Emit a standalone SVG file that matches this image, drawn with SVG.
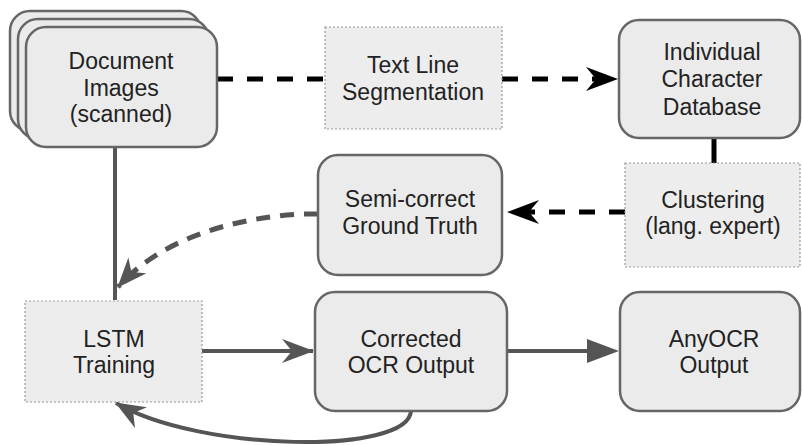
<svg xmlns="http://www.w3.org/2000/svg" width="802" height="445" viewBox="0 0 802 445">
<defs>
<style>
.rb{fill:#ebebeb;stroke:#666;stroke-width:2.5}
.db{fill:#ededed;stroke:#999;stroke-width:1.2;stroke-dasharray:2 2}
.t{font-family:"Liberation Sans",Arial,sans-serif;font-size:23px;fill:#222;text-anchor:middle}
.blk{fill:none;stroke:#000;stroke-width:5;stroke-dasharray:16 14}
.gr{fill:none;stroke:#555;stroke-width:4}
.grd{fill:none;stroke:#555;stroke-width:5;stroke-dasharray:14 10}
</style>
<marker id="stB" viewBox="0 0 32 24" refX="31" refY="12" markerWidth="32" markerHeight="24" markerUnits="userSpaceOnUse" orient="auto">
<path d="M0,0 L32,12 L0,24 L10,12 z" fill="#000"/>
</marker>
<marker id="stG" viewBox="0 0 32 24" refX="31" refY="12" markerWidth="32" markerHeight="24" markerUnits="userSpaceOnUse" orient="auto">
<path d="M0,0 L32,12 L0,24 L10,12 z" fill="#555"/>
</marker>
<marker id="stG2" viewBox="0 0 30 24" refX="29" refY="12" markerWidth="30" markerHeight="24" markerUnits="userSpaceOnUse" orient="auto">
<path d="M0,0 L30,12 L0,24 L9,12 z" fill="#555"/>
</marker>
<marker id="tri" viewBox="0 0 32 24" refX="31" refY="12" markerWidth="32" markerHeight="24" markerUnits="userSpaceOnUse" orient="auto">
<path d="M0,0 L32,12 L0,24 z" fill="#555"/>
</marker>
</defs>

<g id="connectors">
<path class="blk" d="M217,79 L325,79"/>
<path class="blk" d="M502,79 L617,79" marker-end="url(#stB)"/>
<path d="M714,138 L714,163" stroke="#000" stroke-width="5" fill="none"/>
<path class="blk" d="M625,212 L508,212" marker-end="url(#stB)"/>
<path class="grd" d="M318,214 L302,214 C230,218 160,240 118,287" marker-end="url(#stG2)"/>
<path class="gr" d="M115,147 L115,300"/>
<path class="gr" d="M202,351 L313,351" marker-end="url(#stG)"/>
<path class="gr" d="M507,351 L592,351"/>
<path d="M585,351 L618,351" stroke="none" fill="none" marker-end="url(#tri)"/>
<path class="gr" d="M411,411 C408,455 200,452 116,403" marker-end="url(#stG2)"/>
</g>

<g id="doc-images">
<rect class="rb" x="10" y="11" width="191" height="120" rx="20"/>
<rect class="rb" x="18" y="19" width="191" height="120" rx="20"/>
<rect class="rb" x="26" y="27" width="191" height="120" rx="20"/>
<text class="t" x="121" y="69">Document</text>
<text class="t" x="121" y="96">Images</text>
<text class="t" x="121" y="122">(scanned)</text>
</g>

<g id="text-line-seg">
<rect class="db" x="325" y="27" width="177" height="102"/>
<text class="t" x="413" y="73">Text Line</text>
<text class="t" x="413" y="100">Segmentation</text>
</g>

<g id="char-db">
<rect class="rb" x="619" y="20" width="181" height="118" rx="20"/>
<text class="t" x="712" y="60">Individual</text>
<text class="t" x="712" y="87">Character</text>
<text class="t" x="712" y="115">Database</text>
</g>

<g id="clustering">
<rect class="db" x="625" y="163" width="175" height="104"/>
<text class="t" x="713" y="208">Clustering</text>
<text class="t" x="713" y="234">(lang. expert)</text>
</g>

<g id="semi-correct">
<rect class="rb" x="318" y="155" width="184" height="120" rx="20"/>
<text class="t" x="410" y="207">Semi-correct</text>
<text class="t" x="410" y="234">Ground Truth</text>
</g>

<g id="lstm">
<rect class="db" x="25" y="301" width="177" height="101"/>
<text class="t" x="114" y="347">LSTM</text>
<text class="t" x="114" y="373">Training</text>
</g>

<g id="corrected">
<rect class="rb" x="315" y="292" width="192" height="119" rx="20"/>
<text class="t" x="411" y="347">Corrected</text>
<text class="t" x="411" y="373">OCR Output</text>
</g>

<g id="anyocr">
<rect class="rb" x="620" y="292" width="180" height="119" rx="20"/>
<text class="t" x="714" y="347">AnyOCR</text>
<text class="t" x="714" y="373">Output</text>
</g>
</svg>
